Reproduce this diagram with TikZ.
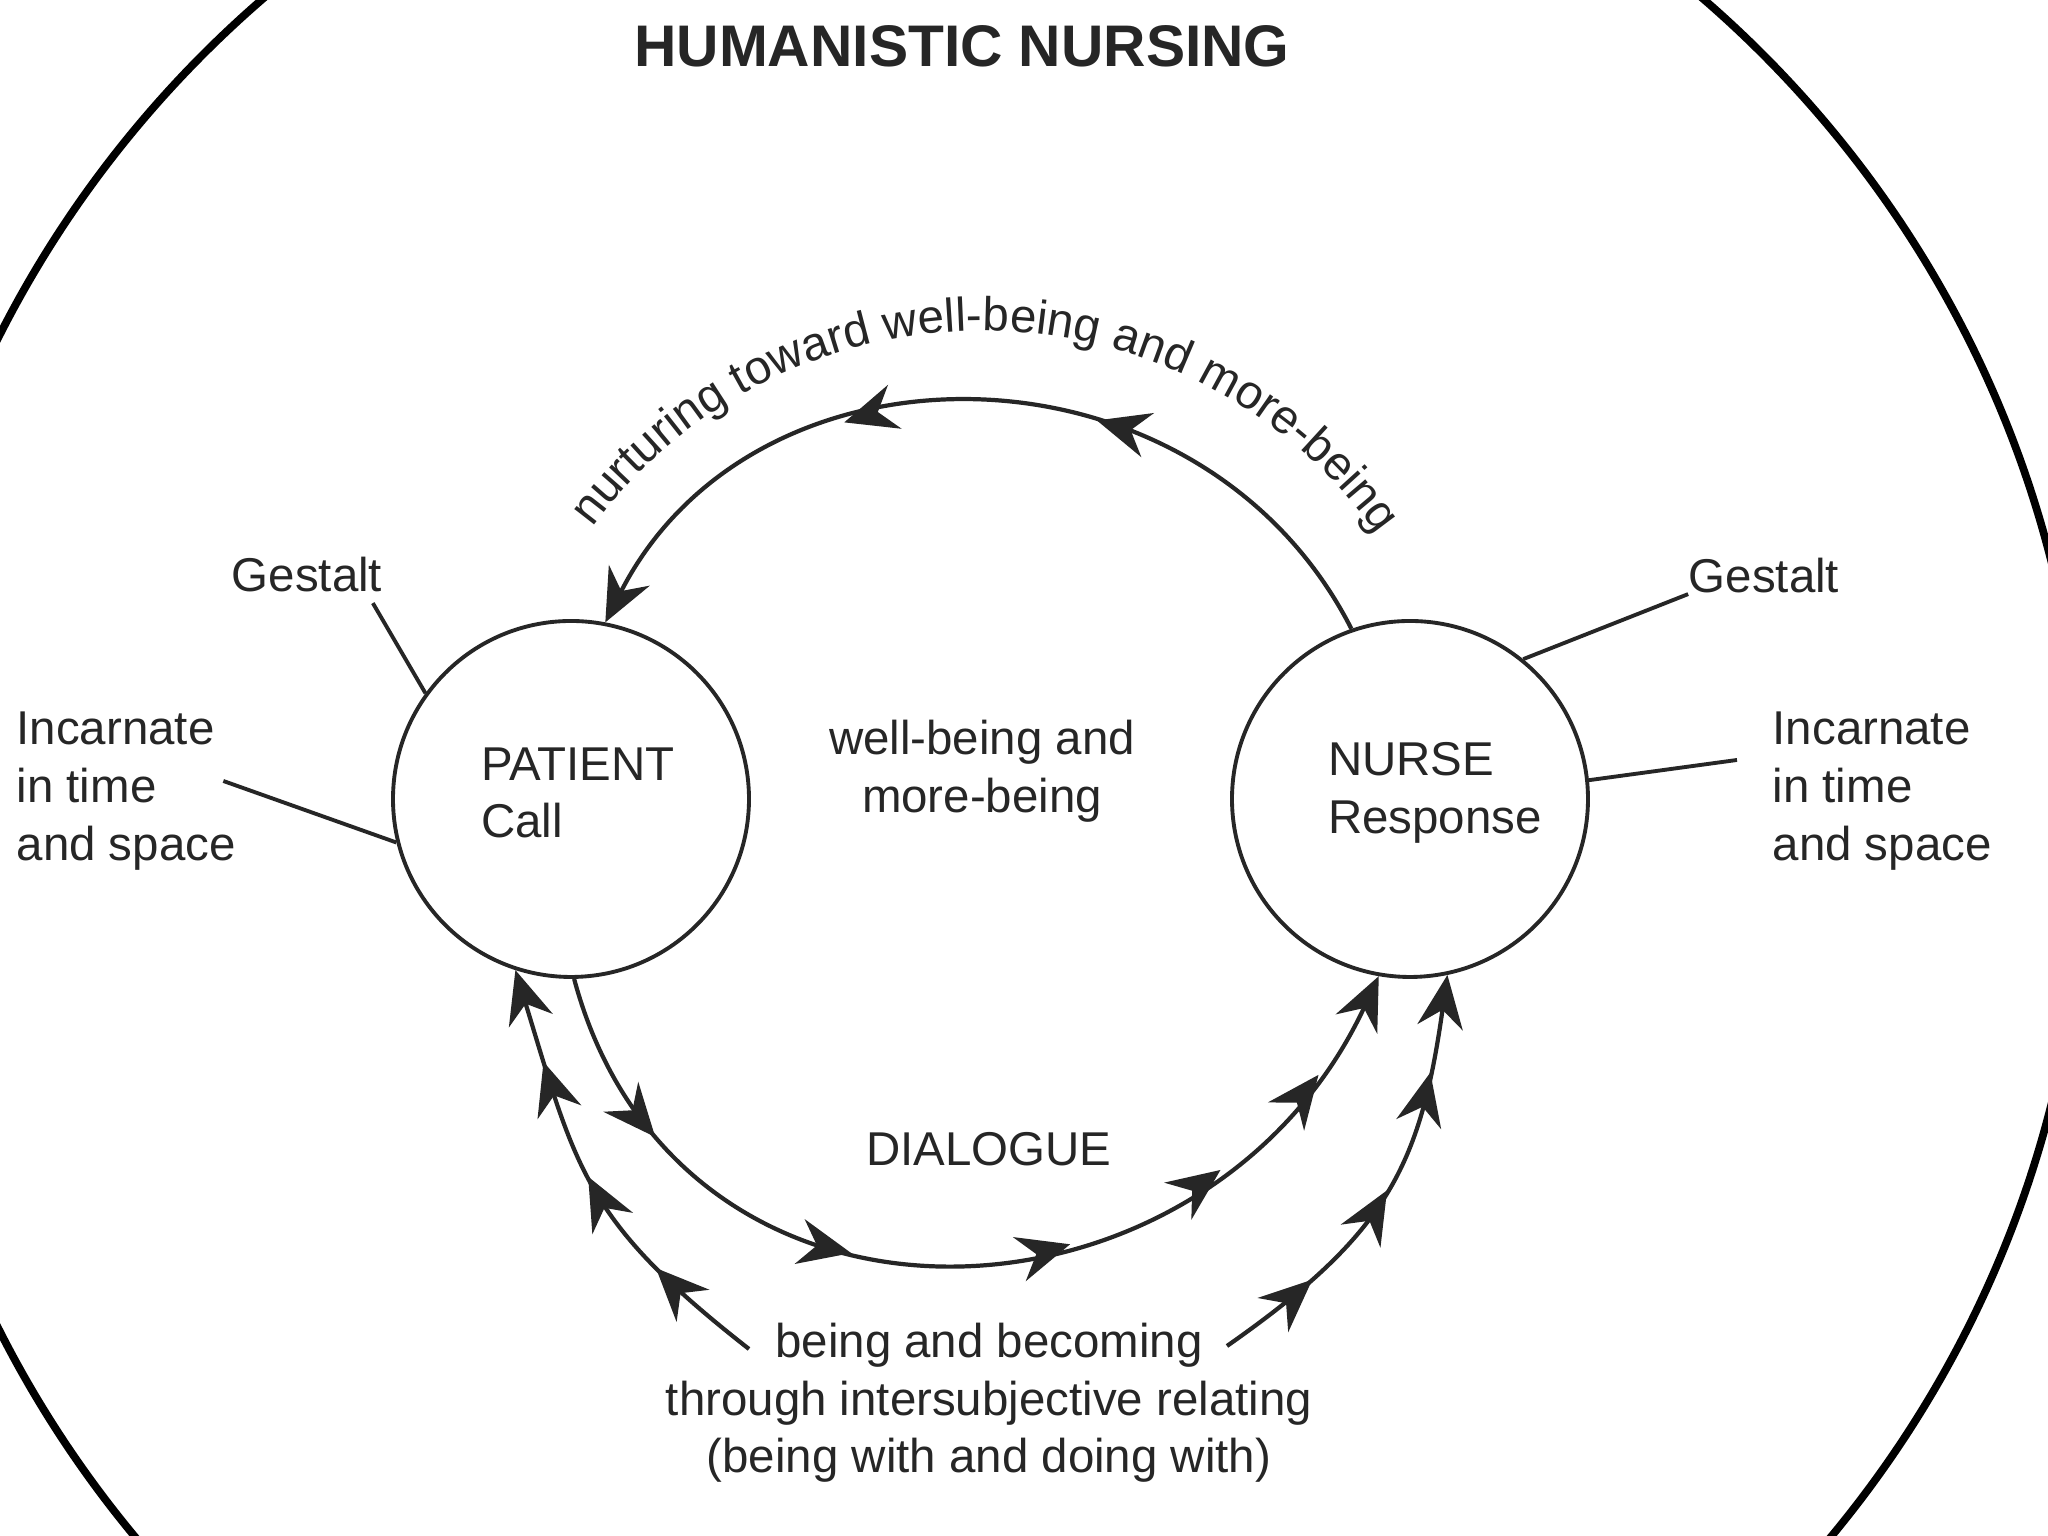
\documentclass[tikz,border=0pt]{standalone}
\usepackage{fontspec}
\setmainfont{Liberation Sans}
\usetikzlibrary{arrows.meta,decorations.markings,decorations.text}
\definecolor{ink}{HTML}{262626}
\tikzset{
  >={Stealth[length=15pt,width=13pt,inset=5pt]},
  txt/.style={font=\fontsize{13.5}{16.4}\selectfont, text=ink, inner sep=0pt, align=left},
  person/.style={circle, draw=ink, line width=1.1pt, minimum size=3.56cm, inner sep=0pt},
  connector/.style={draw=ink, line width=1.1pt},
  flow/.style={draw=ink, line width=1.2pt, ->},
  midarrow/.style={postaction={decorate, decoration={markings, mark=at position #1 with {\arrow{>}}}}},
}
\begin{document}
\begin{tikzpicture}
    \clip (0,0) rectangle (20.48,15.36);
    \fill[white] (0,0) rectangle (20.48,15.36);

    % Outer frame
    \draw[black, line width=2.2pt] (9.83,7.03) circle[radius=11.02];
    \node[font=\bfseries\fontsize{16.7}{20}\selectfont, text=ink] (title) at (9.62,14.90) {HUMANISTIC NURSING};

    % Persons
    \node[person] (patient) at (5.71,7.37) {};
    \node[person] (nurse) at (14.10,7.37) {};
    \node[txt] (patientTxt) at (5.78,7.43) {PATIENT\\Call};
    \node[txt] (nurseTxt) at (14.35,7.43) {NURSE\\Response};

    % Side labels
    \node[txt] (gestaltL) at (3.07,9.61) {Gestalt};
    \node[txt] (gestaltR) at (17.64,9.60) {Gestalt};
    \node[txt, anchor=west] (incarnL) at (0.16,7.45) {Incarnate\\in time\\and space};
    \node[txt, anchor=west] (incarnR) at (17.72,7.45) {Incarnate\\in time\\and space};
    \draw[connector] (patient.144) -- ([shift={(-0.1,-0.1)}]gestaltL.south east);
    \draw[connector] (patient.194) -- ([shift={(-0.13,0.1)}]incarnL.east);
    \draw[connector] (nurse.51) -- (gestaltR.south west);
    \draw[connector] (nurse.6) -- ([shift={(-0.35,0.31)}]incarnR.west);

    % Middle texts
    \node[txt, align=center] (wellbeing) at (9.82,7.65) {well-being and\\more-being};
    \node[txt] (dialogue) at (9.89,3.87) {DIALOGUE};
    \node[txt, align=center] (becoming) at (9.89,1.33) {being and becoming\\through intersubjective relating\\(being with and doing with)};

    % Nurturing arc
    \draw[flow, midarrow=0.37, midarrow=0.65] (nurse.109) to[out=117, in=63, looseness=1.14] (patient.79);
    \path[decorate, decoration={text along path, text align=center,
        text={|\fontsize{13.5}{16}\selectfont\color{ink}|nurturing toward well-being and more-being}}]
        (5.95,10.12) arc[start angle=143, end angle=36, radius=4.85];

    % Dialogue arc
    \draw[flow, midarrow=0.17, midarrow=0.39, midarrow=0.6, midarrow=0.76, midarrow=0.89]
        (patient.271) to[out=-75, in=245, looseness=1.29] (nurse.260);

    % Being and becoming arcs
    \coordinate (bbL) at (7.49,1.87);
    \coordinate (bbR) at (12.27,1.90);
    \draw[flow, midarrow=0.27, midarrow=0.52, midarrow=0.79] (bbL) to[out=142, in=-73, looseness=1.2] (patient.252);
    \draw[flow, midarrow=0.24, midarrow=0.5, midarrow=0.78] (bbR) to[out=35, in=-98, looseness=1.15] (nurse.282);
\end{tikzpicture}
\end{document}
